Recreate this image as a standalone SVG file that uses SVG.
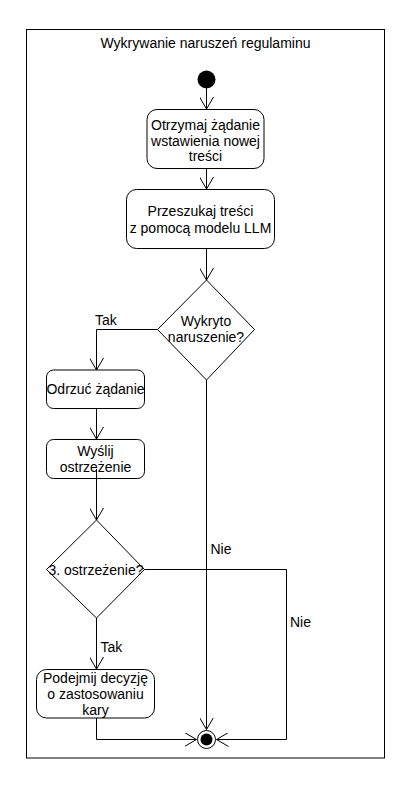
<svg xmlns="http://www.w3.org/2000/svg" width="417" height="791" viewBox="0 0 417 791">
<defs>
<style>
text{font-family:"Liberation Sans",Arial,sans-serif;font-size:14px;fill:#000;text-anchor:middle}
.lbl{text-anchor:start}
.n{fill:#fff;stroke:#000;stroke-width:1}
.c{fill:none;stroke:#000;stroke-width:1}
</style>
<marker id="ah" viewBox="0 0 14 14" refX="12" refY="7" markerWidth="14" markerHeight="14" markerUnits="userSpaceOnUse" orient="auto">
<path d="M0,0 L12,7 L0,14" fill="none" stroke="#000" stroke-width="1"/>
</marker>
</defs>
<rect width="417" height="791" fill="#fff"/>
<g id="frame">
<rect x="26.5" y="29.5" width="358" height="728.5" fill="none" stroke="#000"/>
<text x="205.5" y="48">Wykrywanie naruszeń regulaminu</text>
</g>
<g id="connectors">
<path class="c" d="M206.5,88 V109" marker-end="url(#ah)"/>
<path class="c" d="M206.5,168.5 V189" marker-end="url(#ah)"/>
<path class="c" d="M206.5,248.5 V280" marker-end="url(#ah)"/>
<path class="c" d="M157.5,329.5 H96.5 V370" marker-end="url(#ah)"/>
<path class="c" d="M96.5,408.5 V439" marker-end="url(#ah)"/>
<path class="c" d="M96.5,469 V520" marker-end="url(#ah)"/>
<path class="c" d="M96.5,618 V669" marker-end="url(#ah)"/>
<path class="c" d="M206.5,380 V729.5" marker-end="url(#ah)"/>
<path class="c" d="M144.5,569.5 H286.5 V739.5 H216.5" marker-end="url(#ah)"/>
<path class="c" d="M96.5,718 V739.5 H196.5" marker-end="url(#ah)"/>
<text class="lbl" x="95" y="325">Tak</text>
<text class="lbl" x="210.5" y="553.5">Nie</text>
<text class="lbl" x="290" y="627">Nie</text>
<text class="lbl" x="100.5" y="652">Tak</text>
</g>
<g id="start">
<circle cx="206.5" cy="79.5" r="9" fill="#000"/>
</g>
<g id="receive">
<rect class="n" x="147" y="109.5" width="117" height="59" rx="10"/>
<text x="205.5" y="130">Otrzymaj żądanie</text>
<text x="205.5" y="146">wstawienia nowej</text>
<text x="205.5" y="161">treści</text>
</g>
<g id="search">
<rect class="n" x="126.5" y="189.5" width="148" height="59" rx="10"/>
<text x="200.5" y="216">Przeszukaj treści</text>
<text x="200.5" y="232.5">z pomocą modelu LLM</text>
</g>
<g id="decision1">
<path class="n" d="M206.5,280 L254.5,329.5 L206.5,380 L157.5,329.5 Z"/>
<text x="206" y="326">Wykryto</text>
<text x="206" y="342">naruszenie?</text>
</g>
<g id="reject">
<rect class="n" x="46.5" y="370" width="98" height="38.5" rx="7"/>
<text x="95.5" y="393.5">Odrzuć żądanie</text>
</g>
<g id="warn">
<rect class="n" x="46.5" y="439.5" width="98" height="39" rx="7"/>
<text x="95.5" y="456">Wyślij</text>
<text x="95.5" y="472">ostrzeżenie</text>
</g>
<path class="c" d="M96.5,469 V478.5"/>
<g id="decision2">
<path class="n" d="M96.5,520 L144.5,569.5 L96.5,618 L46.5,569.5 Z"/>
<text x="96" y="574.5">3. ostrzeżenie?</text>
</g>
<g id="punish">
<rect class="n" x="36.5" y="669.5" width="118" height="48.5" rx="10"/>
<text x="95.5" y="683">Podejmij decyzję</text>
<text x="95.5" y="699">o zastosowaniu</text>
<text x="95.5" y="714.5">kary</text>
</g>
<g id="end">
<circle cx="206.5" cy="739.5" r="9" fill="#fff" stroke="#000"/>
<circle cx="206.5" cy="739.5" r="6" fill="#000"/>
</g>
</svg>
